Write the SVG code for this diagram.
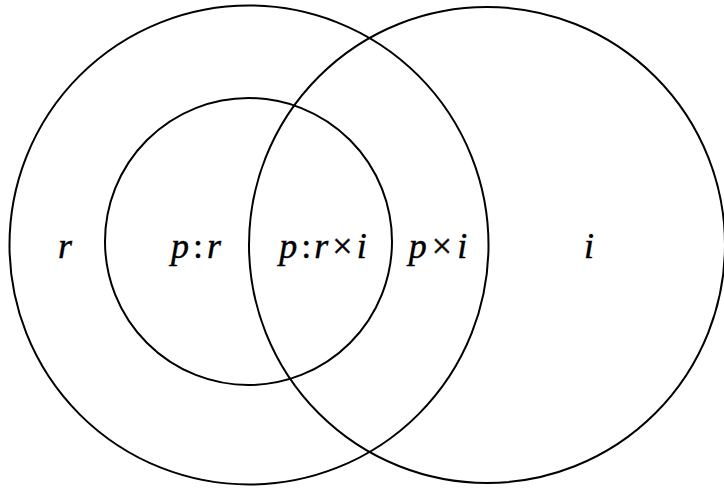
<svg xmlns="http://www.w3.org/2000/svg" width="724" height="488" viewBox="0 0 724 488">
<style>
.c{fill:none;stroke:#000;stroke-width:2}
.t{font-family:"Liberation Serif","Times New Roman",serif;font-style:italic;font-size:36px;fill:#000;stroke:#000;stroke-width:0.4;text-anchor:middle}
.o{font-style:normal}
</style>
<rect width="724" height="488" fill="#fff"/>
<g id="circle-r"><circle class="c" cx="249" cy="245" r="239.5"/></g>
<g id="circle-i"><circle class="c" cx="487" cy="245" r="238"/></g>
<g id="circle-p"><circle class="c" cx="248.5" cy="241.5" r="143.5"/></g>
<g id="labels">
<text class="t" x="65" y="258">r</text>
<text class="t" x="196" y="258">p<tspan class="o" dx="4">:</tspan><tspan dx="4">r</tspan></text>
<text class="t" x="323" y="258">p<tspan class="o" dx="4">:</tspan><tspan dx="3">r</tspan><tspan class="o" dx="4">×</tspan><tspan dx="4">i</tspan></text>
<text class="t" x="438" y="258">p<tspan class="o" dx="5">×</tspan><tspan dx="5">i</tspan></text>
<text class="t" x="589" y="258">i</text>
</g>
</svg>
